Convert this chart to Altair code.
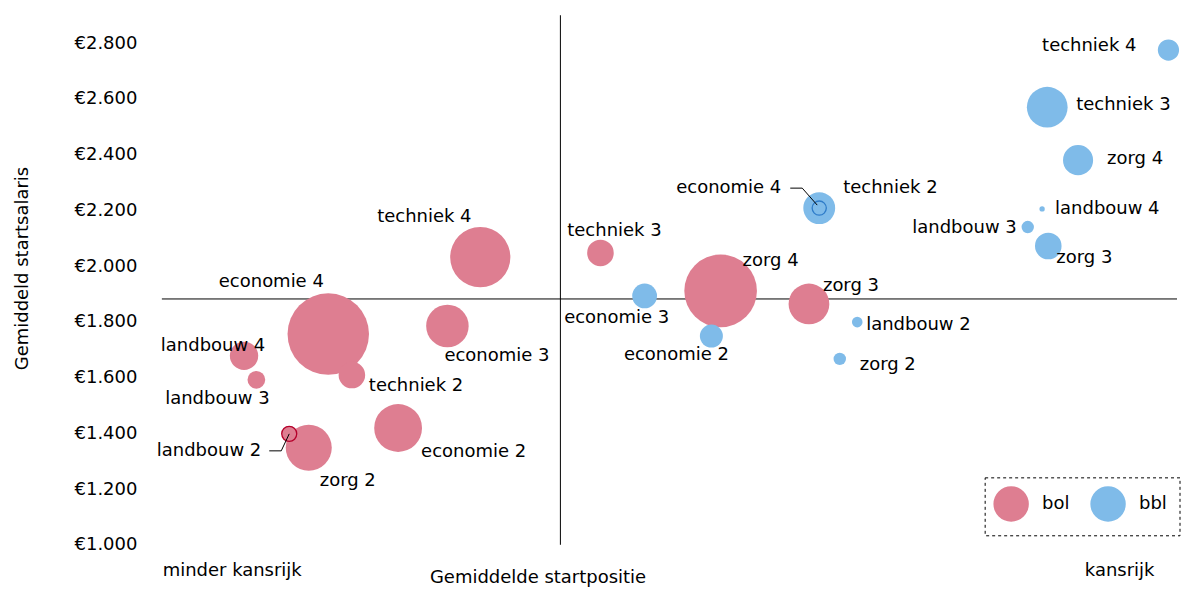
import altair as alt
import pandas as pd

# ---------------- data ----------------
opleiding = ["economie 4", "techniek 4", "economie 3", "techniek 2", "economie 2", "zorg 2",
             "landbouw 4", "landbouw 3", "landbouw 2", "techniek 3", "zorg 4", "zorg 3",
             "economie 3", "economie 2", "techniek 2", "economie 4", "landbouw 2", "zorg 2",
             "techniek 4", "techniek 3", "zorg 4", "landbouw 4", "landbouw 3", "zorg 3"]
leerweg = ["bol"] * 12 + ["bbl"] * 12
startpositie = [16.2, 31.0, 27.8, 18.5, 23.0, 14.3, 8.0, 9.2, 12.4, 42.7, 54.4, 63.0,
                47.0, 53.5, 64.0, 64.0, 67.7, 66.0, 98.0, 86.2, 89.2, 85.7, 84.3, 86.3]
startsalaris = [1756, 2032, 1785, 1609, 1419, 1348, 1678, 1592, 1398, 2047, 1911, 1864,
                1893, 1749, 2208, 2208, 1799, 1667, 2775, 2570, 2380, 2205, 2140, 2072]
aantal = [21160, 11560, 5760, 2250, 7290, 6760, 2560, 1000, 720, 2250, 16810, 5290,
          1960, 1690, 3240, 640, 360, 490, 1440, 5290, 2890, 90, 490, 2250]
gem_startpositie = [38.8]
gem_startsalaris = [1882]
y_ticks = [1000, 1200, 1400, 1600, 1800, 2000, 2200, 2400, 2600, 2800]
x_labels = ["minder kansrijk", "kansrijk"]
x_label_pos = [6.8, 93.2]
highlight = [("bol", "landbouw 2"), ("bbl", "economie 4")]

# ---------------- layout ----------------
PX_X = 10.28            # pixels per unit of startpositie
W, H = 1016, 530
XDOM, YDOM = [0, W / PX_X], [1000, 2900]
PX_Y = H / (YDOM[1] - YDOM[0])
FONT = "DejaVu Sans"
FS = 18
PINK, BLUE = "#DE7E91", "#7FBBE9"
PINK_STROKE, BLUE_STROKE = "#B5002B", "#2F7CC9"

# label placement: (align, dx px, dy px) relative to bubble centre
label_pos = {
    ("bol", "economie 4"): ("center", -57, -52),
    ("bol", "techniek 4"): ("center", -56, -40),
    ("bol", "economie 3"): ("left", -3, 30),
    ("bol", "techniek 2"): ("left", 17, 11),
    ("bol", "economie 2"): ("left", 23, 24),
    ("bol", "zorg 2"): ("left", 11, 33),
    ("bol", "landbouw 4"): ("center", -31, -10),
    ("bol", "landbouw 3"): ("center", -39, 19),
    ("bol", "landbouw 2"): ("right", -28, 17),
    ("bol", "techniek 3"): ("center", 14, -22),
    ("bol", "zorg 4"): ("left", 22, -30),
    ("bol", "zorg 3"): ("left", 14, -18),
    ("bbl", "economie 3"): ("center", -28, 22),
    ("bbl", "economie 2"): ("center", -35, 19),
    ("bbl", "techniek 2"): ("left", 24, -20),
    ("bbl", "economie 4"): ("right", -38, -20),
    ("bbl", "landbouw 2"): ("left", 9, 3),
    ("bbl", "zorg 2"): ("left", 20, 6),
    ("bbl", "techniek 4"): ("right", -32, -4),
    ("bbl", "techniek 3"): ("left", 29, -2),
    ("bbl", "zorg 4"): ("left", 29, -1),
    ("bbl", "landbouw 4"): ("left", 13, 0),
    ("bbl", "landbouw 3"): ("right", -11, 1),
    ("bbl", "zorg 3"): ("left", 8, 12),
}
# callout leader lines (pixel offsets from bubble centre)
callouts = {
    ("bol", "landbouw 2"): [(-20, 17), (-8, 17), (0, 0)],
    ("bbl", "economie 4"): [(-29, -20), (-17, -20), (-2, -3)],
}

df = pd.DataFrame({"opleiding": opleiding, "leerweg": leerweg,
                   "startpositie": startpositie, "startsalaris": startsalaris,
                   "aantal": aantal})
df["align"] = [label_pos[(l, o)][0] for l, o in zip(leerweg, opleiding)]
df["lx"] = [x + label_pos[(l, o)][1] / PX_X for x, l, o in zip(startpositie, leerweg, opleiding)]
df["ly"] = [y - label_pos[(l, o)][2] / PX_Y for y, l, o in zip(startsalaris, leerweg, opleiding)]
df["hl"] = [(l, o) in highlight for l, o in zip(leerweg, opleiding)]

rows = []
for (l, o), pts in callouts.items():
    r = df[(df.leerweg == l) & (df.opleiding == o)].iloc[0]
    for i, (dx, dy) in enumerate(pts):
        rows.append({"id": f"{l}-{o}", "i": i,
                     "x": r.startpositie + dx / PX_X,
                     "y": r.startsalaris - dy / PX_Y})
lines_df = pd.DataFrame(rows)

xscale = alt.Scale(domain=XDOM, nice=False, zero=False)
yscale = alt.Scale(domain=YDOM, nice=False, zero=False)

x_axis = alt.Axis(values=x_label_pos,
                  labelExpr=f"datum.value < 50 ? '{x_labels[0]}' : '{x_labels[1]}'",
                  domain=False, ticks=False, grid=False, labelFlush=False,
                  labelPadding=17, labelFontSize=FS, labelFont=FONT, labelColor="black",
                  title="Gemiddelde startpositie", titleFont=FONT, titleFontSize=FS,
                  titleFontWeight="normal", titleColor="black",
                  titleX=376, titleY=33, titleAlign="center", titleBaseline="middle")
y_axis = alt.Axis(values=y_ticks,
                  labelExpr="'€' + replace(format(datum.value, ','), ',', '.')",
                  domain=False, ticks=False, grid=False, labelFlush=False,
                  labelPadding=25, labelFontSize=FS, labelFont=FONT, labelColor="black",
                  title="Gemiddeld startsalaris", titleFont=FONT, titleFontSize=FS,
                  titleFontWeight="normal", titleColor="black",
                  titleX=-139, titleY=253, titleAngle=-90, titleAlign="center",
                  titleBaseline="middle")

color = alt.Color("leerweg:N",
                  scale=alt.Scale(domain=["bol", "bbl"], range=[PINK, BLUE]),
                  legend=alt.Legend(title=None, orient="none", legendX=824, legendY=463,
                                    direction="horizontal", symbolType="circle",
                                    symbolSize=1257, symbolStrokeWidth=0, symbolOpacity=1,
                                    labelFontSize=FS, labelFont=FONT, labelColor="black",
                                    labelOffset=13, columnPadding=20, padding=8))
size = alt.Size("aantal:Q", scale=alt.Scale(type="linear", domain=[0, 10000], range=[0, 3141.6], zero=True),
                legend=None)

vline = alt.Chart(pd.DataFrame({"x": gem_startpositie})).mark_rule(color="black", strokeWidth=1).encode(
    x=alt.X("x:Q", scale=xscale, axis=x_axis))
hline = alt.Chart(pd.DataFrame({"y": gem_startsalaris})).mark_rule(color="black", strokeWidth=1).encode(
    y=alt.Y("y:Q", scale=yscale, axis=y_axis))

bubbles = alt.Chart(df).mark_circle(opacity=1).encode(
    x=alt.X("startpositie:Q", scale=xscale, axis=x_axis),
    y=alt.Y("startsalaris:Q", scale=yscale, axis=y_axis),
    size=size, color=color,
    order=alt.Order("aantal:Q", sort="descending"))

hl = alt.Chart(df).transform_filter(alt.datum.hl).mark_circle(opacity=1, strokeWidth=1.3).encode(
    x=alt.X("startpositie:Q", scale=xscale, axis=x_axis),
    y=alt.Y("startsalaris:Q", scale=yscale, axis=y_axis),
    size=size, color=color,
    stroke=alt.Stroke("leerweg:N", scale=alt.Scale(domain=["bol", "bbl"], range=[PINK_STROKE, BLUE_STROKE]),
                      legend=None))

leaders = alt.Chart(lines_df).mark_line(color="black", strokeWidth=1).encode(
    x=alt.X("x:Q", scale=xscale, axis=x_axis),
    y=alt.Y("y:Q", scale=yscale, axis=y_axis),
    detail="id:N", order="i:Q")

# dashed frame around the legend
legend_box = alt.Chart(pd.DataFrame({"k": [0]})).mark_rect(
    fill=None, stroke="black", strokeWidth=1, strokeDash=[3, 3]).encode(
    x=alt.value(824), x2=alt.value(1019), y=alt.value(463), y2=alt.value(521))

def labels(al):
    return alt.Chart(df).transform_filter(alt.datum.align == al).mark_text(
        align=al, baseline="middle", font=FONT, fontSize=FS, color="black").encode(
        x=alt.X("lx:Q", scale=xscale, axis=x_axis),
        y=alt.Y("ly:Q", scale=yscale, axis=y_axis),
        text="opleiding:N")

chart = alt.layer(vline, hline, bubbles, hl, leaders, legend_box,
                  labels("left"), labels("center"), labels("right")).properties(
    width=W, height=H, padding={"left": 5, "top": 6, "right": 0, "bottom": 0},
    background="white"
).configure_view(stroke=None)

chart.save("out.html", embed_options={"renderer": "svg", "actions": False})
